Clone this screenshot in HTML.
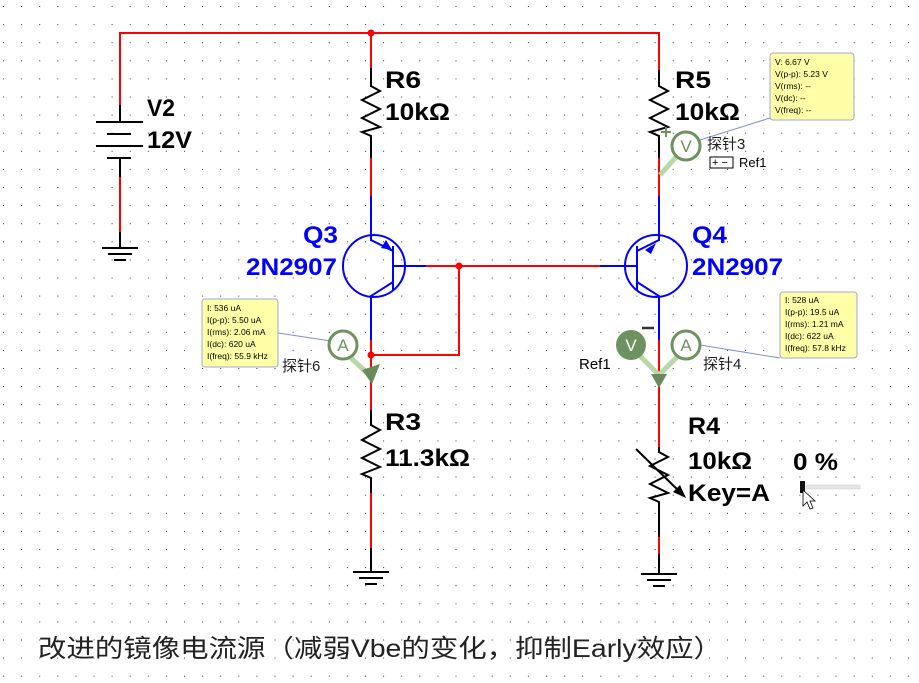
<!DOCTYPE html>
<html><head><meta charset="utf-8"><style>
html,body{margin:0;padding:0;background:#fff;}
svg{display:block;}
.b{font-family:"Liberation Sans",sans-serif;font-weight:bold;font-size:24px;fill:#000;}
.q{font-family:"Liberation Sans",sans-serif;font-weight:bold;font-size:24px;fill:#0000ff;}
.s{font-family:"Liberation Sans",sans-serif;font-size:8.5px;fill:#000;}
.p{font-family:"Liberation Sans","Noto Sans CJK SC",sans-serif;font-size:15px;fill:#222;}
</style></head><body>
<svg width="919" height="683" viewBox="0 0 919 683" xmlns="http://www.w3.org/2000/svg">
<defs><pattern id="g" x="3" y="6" width="18.1" height="18.1" patternUnits="userSpaceOnUse"><rect x="0" y="0" width="1" height="1" fill="#333"/></pattern></defs>
<rect width="919" height="683" fill="#fff"/>
<rect width="919" height="683" fill="url(#g)"/>
<g fill="none" stroke-width="2">
<path d="M120 105V33H659V70" stroke="#f00"/>
<path d="M371 33V68" stroke="#f00"/>
<circle cx="371" cy="33" r="3.5" fill="#f00" stroke="none"/>
<path d="M120 105V122M120 158V177M120 232V248" stroke="#000"/>
<path d="M120 177V232" stroke="#f00"/>
<path d="M96 122H143M107 134H131M96 146H143M107 158H131" stroke="#000"/>
<path d="M102 248H138M108 254H132M114 260H126" stroke="#000"/>
<path d="M371 68V86L380 91L362 100L380 109L362 118L380 127L362 132L371 136V158" stroke="#000"/>
<path d="M371 158V196" stroke="#f00"/>
<path d="M371 196V240L393 251M393 246V290M393 266H426M393 282L371 296V340" stroke="#00f"/>
<circle cx="374" cy="266" r="31" stroke="#00f"/>
<polygon points="392,250 381,248 386,240" fill="#00f" stroke="none"/>
<path d="M426 266H600" stroke="#f00"/>
<circle cx="459" cy="266" r="3.5" fill="#f00" stroke="none"/>
<path d="M371 340V410M371 355H459V266" stroke="#f00"/>
<circle cx="371" cy="355" r="3.5" fill="#f00" stroke="none"/>
<path d="M371 410V425L380 430L362 440L380 449L362 458L380 467L362 474L371 478V493" stroke="#000"/>
<path d="M371 493V548" stroke="#f00"/>
<path d="M371 548V572M353 572H389M359 578H383M365 584H377" stroke="#000"/>
<path d="M659 70V86L668 91L650 100L668 109L650 118L668 127L650 132L659 136V158" stroke="#000"/>
<path d="M659 158V196" stroke="#f00"/>
<path d="M659 196V240L637 251M637 246V290M637 266H600M637 282L659 296V340" stroke="#00f"/>
<circle cx="656" cy="266" r="31" stroke="#00f"/>
<polygon points="645,250 656,243 651,254" fill="#00f" stroke="none"/>
<path d="M659 340V447" stroke="#f00"/>
<path d="M659 447V452L668 457L650 466L668 475L650 484L668 493L650 498L659 502V537" stroke="#000"/>
<path d="M636 449L684 496" stroke="#000"/>
<polygon points="686,498 673,492 680,485" fill="#000" stroke="none"/>
<path d="M659 537V554" stroke="#f00"/>
<path d="M659 554V574M641 574H677M647 580H671M653 586H665" stroke="#000"/>
</g>
<text class="b" x="147" y="116" textLength="28" lengthAdjust="spacingAndGlyphs">V2</text><text class="b" x="147" y="148" textLength="45" lengthAdjust="spacingAndGlyphs">12V</text>
<text class="b" x="385" y="88" textLength="36" lengthAdjust="spacingAndGlyphs">R6</text><text class="b" x="385" y="120" textLength="65" lengthAdjust="spacingAndGlyphs">10kΩ</text>
<text class="b" x="675" y="88" textLength="36" lengthAdjust="spacingAndGlyphs">R5</text><text class="b" x="675" y="120" textLength="65" lengthAdjust="spacingAndGlyphs">10kΩ</text>
<text class="q" x="303" y="243" textLength="35" lengthAdjust="spacingAndGlyphs">Q3</text><text class="q" x="246" y="275" textLength="91" lengthAdjust="spacingAndGlyphs">2N2907</text>
<text class="q" x="692" y="243" textLength="35" lengthAdjust="spacingAndGlyphs">Q4</text><text class="q" x="692" y="275" textLength="91" lengthAdjust="spacingAndGlyphs">2N2907</text>
<text class="b" x="385" y="430" textLength="36" lengthAdjust="spacingAndGlyphs">R3</text><text class="b" x="385" y="466" textLength="85" lengthAdjust="spacingAndGlyphs">11.3kΩ</text>
<text class="b" x="688" y="434" textLength="32" lengthAdjust="spacingAndGlyphs">R4</text><text class="b" x="688" y="469" textLength="64" lengthAdjust="spacingAndGlyphs">10kΩ</text><text class="b" x="688" y="501" textLength="82" lengthAdjust="spacingAndGlyphs">Key=A</text>
<text class="b" x="793" y="470" textLength="45" lengthAdjust="spacingAndGlyphs">0 %</text>
<rect x="806" y="485" width="54" height="4" fill="#e4e4e4" stroke="#ccc" stroke-width="0.5"/>
<rect x="800" y="481" width="5" height="12" fill="#111"/>
<path d="M803 490L803 506L807 502L810 509L813 508L810 501L815 501Z" fill="#fff" stroke="#000" stroke-width="0.8"/>
<g>
<line x1="278" y1="333" x2="331" y2="341" stroke="#7f8fd0" stroke-width="1"/>
<rect x="202" y="299" width="76" height="68" rx="3" fill="#ffffa8" stroke="#9fa8d8"/>
<text class="s" x="207" y="311">I: 536 uA</text><text class="s" x="207" y="323">I(p-p): 5.50 uA</text><text class="s" x="207" y="335">I(rms): 2.06 mA</text><text class="s" x="207" y="347">I(dc): 620 uA</text><text class="s" x="207" y="359">I(freq): 55.9 kHz</text>
<line x1="700" y1="345" x2="780" y2="358" stroke="#7f8fd0" stroke-width="1"/>
<rect x="780" y="292" width="77" height="66" rx="3" fill="#ffffa8" stroke="#9fa8d8"/>
<text class="s" x="785" y="303">I: 528 uA</text><text class="s" x="785" y="315">I(p-p): 19.5 uA</text><text class="s" x="785" y="327">I(rms): 1.21 mA</text><text class="s" x="785" y="339">I(dc): 622 uA</text><text class="s" x="785" y="351">I(freq): 57.8 kHz</text>
<line x1="700" y1="140" x2="770" y2="118" stroke="#7f8fd0" stroke-width="1"/>
<rect x="770" y="53" width="84" height="67" rx="3" fill="#ffffa8" stroke="#9fa8d8"/>
<text class="s" x="775" y="65">V: 6.67 V</text><text class="s" x="775" y="77">V(p-p): 5.23 V</text><text class="s" x="775" y="89">V(rms): --</text><text class="s" x="775" y="101">V(dc): --</text><text class="s" x="775" y="113">V(freq): --</text>
</g>
<g font-family="Liberation Sans,sans-serif" font-size="17" text-anchor="middle">
<path d="M350 357L368 374" stroke="#b8d8a8" stroke-width="5"/>
<polygon points="362,370 380,364 372,384" fill="#6a8a5a"/>
<circle cx="343" cy="345" r="14" fill="#fff" stroke="#6f9160" stroke-width="3"/>
<text x="343" y="351" fill="#6f9160">A</text>
<path d="M676 157L660 175" stroke="#b8d8a8" stroke-width="5"/>
<circle cx="686" cy="146" r="14" fill="#fff" stroke="#6f9160" stroke-width="3"/>
<text x="686" y="152" fill="#6f9160">V</text>
<path d="M666 127V137M661 132H671" stroke="#6f9160" stroke-width="2"/>
<path d="M640 356L659 375L678 356" stroke="#b8d8a8" stroke-width="5" fill="none"/>
<polygon points="651,374 667,374 659,388" fill="#6a8a5a"/>
<circle cx="686" cy="345" r="14" fill="#fff" stroke="#6f9160" stroke-width="3"/>
<text x="686" y="351" fill="#6f9160">A</text>
<circle cx="631" cy="345" r="15" fill="#6f9160"/>
<text x="631" y="351" fill="#fff">V</text>
<path d="M642 328H654" stroke="#333" stroke-width="2.5"/>
</g>
<text class="p" x="282" y="371">探针6</text>
<text class="p" x="707" y="149">探针3</text>
<text class="p" x="703" y="369">探针4</text>
<rect x="710" y="157" width="23" height="11" fill="#fff" stroke="#000" stroke-width="1"/>
<text font-family="Liberation Sans,sans-serif" font-size="11" x="712" y="166">+ −</text>
<text font-family="Liberation Sans,sans-serif" font-size="13" x="739" y="167">Ref1</text>
<text font-family="Liberation Sans,sans-serif" font-size="15" x="579" y="369">Ref1</text>
<text font-family="Liberation Sans,'Noto Sans CJK SC',sans-serif" font-size="25" x="38" y="657" textLength="684" lengthAdjust="spacingAndGlyphs" fill="#222">改进的镜像电流源（减弱Vbe的变化，抑制Early效应）</text>
</svg>
</body></html>
